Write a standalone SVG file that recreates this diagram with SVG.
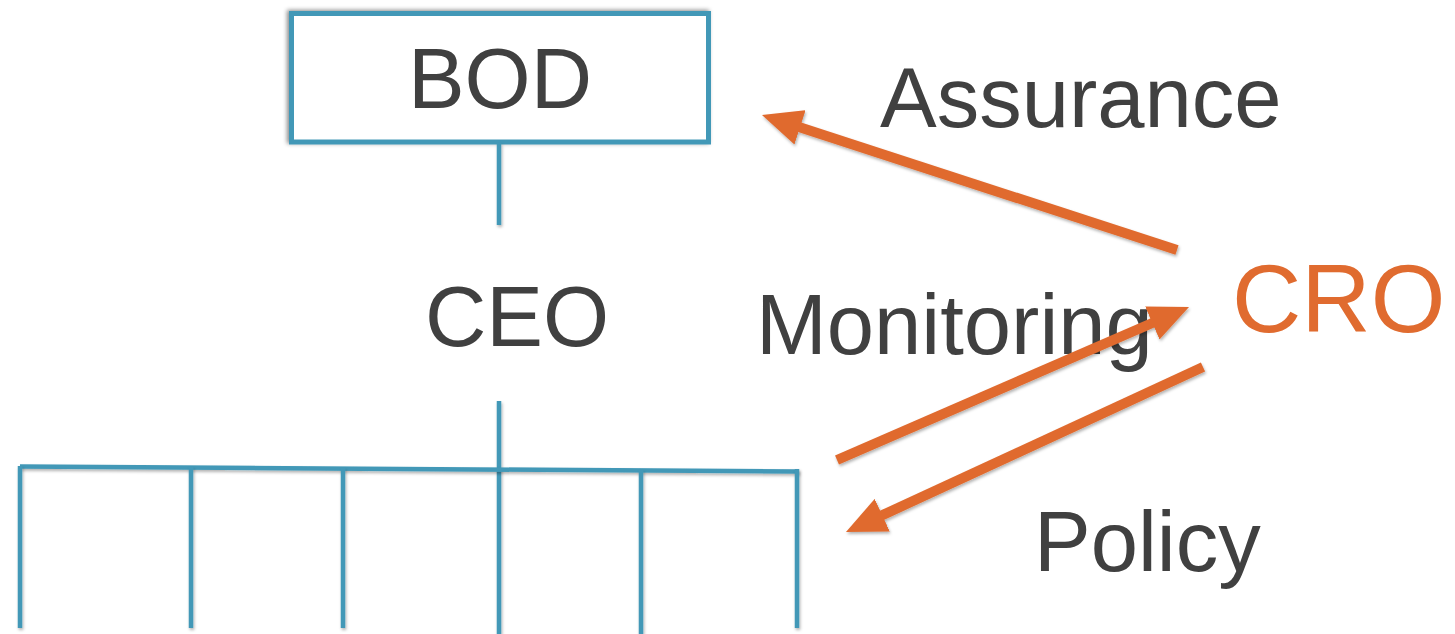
<svg xmlns="http://www.w3.org/2000/svg" width="1455" height="634" viewBox="0 0 1455 634">
<style>
.t{font-family:"Liberation Sans",Arial,sans-serif;fill:#404040;font-size:85px}
.org{stroke:#4298B7;stroke-width:4.5;fill:none;filter:url(#sh)}
.arr{stroke:#E06B2F;stroke-width:10;fill:none;marker-end:url(#ah);filter:url(#sh)}
</style>
<defs>
<filter id="sh" filterUnits="userSpaceOnUse" x="0" y="0" width="1455" height="634">
<feDropShadow dx="1" dy="2" stdDeviation="1.5" flood-color="#000" flood-opacity="0.3"/>
</filter>
<filter id="bsh" filterUnits="userSpaceOnUse" x="0" y="0" width="1455" height="634">
<feDropShadow dx="-2" dy="-1" stdDeviation="2" flood-color="#000" flood-opacity="0.45"/>
</filter>
<marker id="ah" markerUnits="userSpaceOnUse" markerWidth="40" markerHeight="36" refX="10" refY="18" orient="auto">
<path d="M0,0 L40,18 L0,36 z" fill="#E06B2F"/>
</marker>
</defs>
<rect width="1455" height="634" fill="#fff"/>
<g id="bod">
<rect x="291.5" y="13.5" width="417" height="128.5" fill="#fff" stroke="#4298B7" stroke-width="5" filter="url(#bsh)"/>
<text class="t" x="500" y="108" text-anchor="middle">BOD</text>
</g>
<g id="ceo">
<text class="t" x="517" y="346" text-anchor="middle">CEO</text>
</g>
<g id="cro">
<text x="1232" y="332" style="font-family:'Liberation Sans',Arial,sans-serif;font-size:96px;fill:#E06B2F">CRO</text>
</g>
<g id="labels">
<text class="t" x="880" y="127">Assurance</text>
<text class="t" x="756" y="354">Monitoring</text>
<text class="t" x="1034" y="571">Policy</text>
</g>
<g id="connectors">
<line class="org" x1="499" y1="143" x2="499" y2="225"/>
<line class="org" x1="499" y1="401" x2="499" y2="634"/>
<line class="org" x1="20" y1="466.5" x2="799" y2="471.5"/>
<line class="org" x1="20" y1="466" x2="20" y2="628"/>
<line class="org" x1="191" y1="467" x2="191" y2="628"/>
<line class="org" x1="343" y1="468" x2="343" y2="628"/>
<line class="org" x1="641" y1="470" x2="641" y2="634"/>
<line class="org" x1="797" y1="469" x2="797" y2="628"/>
<line class="arr" x1="1177" y1="250" x2="790.5" y2="124.3"/>
<line class="arr" x1="837" y1="460" x2="1161.5" y2="319"/>
<line class="arr" x1="1203" y1="367" x2="873.2" y2="519.4"/>
</g>
</svg>
